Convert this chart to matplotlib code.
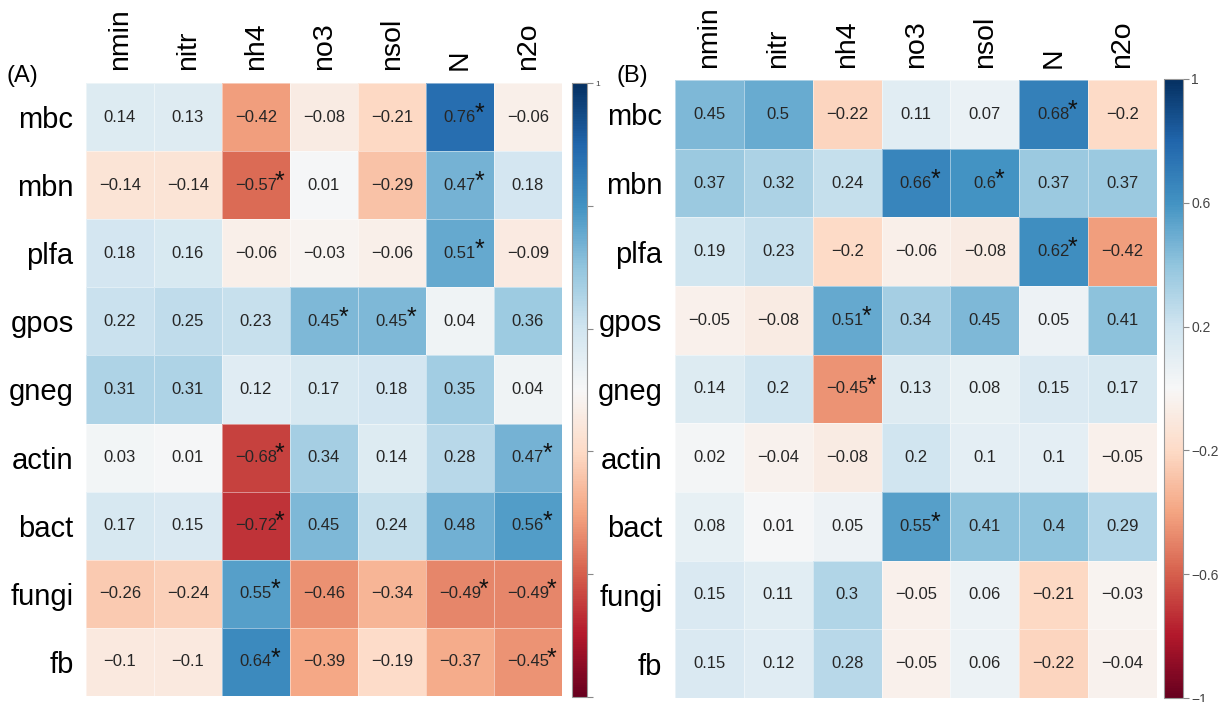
import numpy as np
import matplotlib
matplotlib.use("Agg")
import matplotlib.pyplot as plt

plt.rcParams['font.family'] = ['Liberation Sans', 'DejaVu Sans']

rows = ["mbc", "mbn", "plfa", "gpos", "gneg", "actin", "bact", "fungi", "fb"]
cols = ["nmin", "nitr", "nh4", "no3", "nsol", "N", "n2o"]

vals_A = [
    [0.14, 0.13, -0.42, -0.08, -0.21, 0.76, -0.06],
    [-0.14, -0.14, -0.57, 0.01, -0.29, 0.47, 0.18],
    [0.18, 0.16, -0.06, -0.03, -0.06, 0.51, -0.09],
    [0.22, 0.25, 0.23, 0.45, 0.45, 0.04, 0.36],
    [0.31, 0.31, 0.12, 0.17, 0.18, 0.35, 0.04],
    [0.03, 0.01, -0.68, 0.34, 0.14, 0.28, 0.47],
    [0.17, 0.15, -0.72, 0.45, 0.24, 0.48, 0.56],
    [-0.26, -0.24, 0.55, -0.46, -0.34, -0.49, -0.49],
    [-0.1, -0.1, 0.64, -0.39, -0.19, -0.37, -0.45],
]
sig_A = [
    [0, 0, 0, 0, 0, 1, 0],
    [0, 0, 1, 0, 0, 1, 0],
    [0, 0, 0, 0, 0, 1, 0],
    [0, 0, 0, 1, 1, 0, 0],
    [0, 0, 0, 0, 0, 0, 0],
    [0, 0, 1, 0, 0, 0, 1],
    [0, 0, 1, 0, 0, 0, 1],
    [0, 0, 1, 0, 0, 1, 1],
    [0, 0, 1, 0, 0, 0, 1],
]

vals_B = [
    [0.45, 0.5, -0.22, 0.11, 0.07, 0.68, -0.2],
    [0.37, 0.32, 0.24, 0.66, 0.6, 0.37, 0.37],
    [0.19, 0.23, -0.2, -0.06, -0.08, 0.62, -0.42],
    [-0.05, -0.08, 0.51, 0.34, 0.45, 0.05, 0.41],
    [0.14, 0.2, -0.45, 0.13, 0.08, 0.15, 0.17],
    [0.02, -0.04, -0.08, 0.2, 0.1, 0.1, -0.05],
    [0.08, 0.01, 0.05, 0.55, 0.41, 0.4, 0.29],
    [0.15, 0.11, 0.3, -0.05, 0.06, -0.21, -0.03],
    [0.15, 0.12, 0.28, -0.05, 0.06, -0.22, -0.04],
]
sig_B = [
    [0, 0, 0, 0, 0, 1, 0],
    [0, 0, 0, 1, 1, 0, 0],
    [0, 0, 0, 0, 0, 1, 0],
    [0, 0, 1, 0, 0, 0, 0],
    [0, 0, 1, 0, 0, 0, 0],
    [0, 0, 0, 0, 0, 0, 0],
    [0, 0, 0, 1, 0, 0, 0],
    [0, 0, 0, 0, 0, 0, 0],
    [0, 0, 0, 0, 0, 0, 0],
]

cbar_ticks = [-1, -0.6, -0.2, 0.2, 0.6, 1]
cbar_labels_B = ["\u22121", "\u22120.6", "\u22120.2", "0.2", "0.6", "1"]
cbar_labels_A = ["", "", "", "", "", "1"]

W, H = 1231, 702
fig = plt.figure(figsize=(W / 100, H / 100), dpi=100)


def box(x0, y0, x1, y1):
    return [x0 / W, 1 - y1 / H, (x1 - x0) / W, (y1 - y0) / H]


def fmt(v):
    return f"{v:g}".replace("-", "\u2212")


def heat(ax, cax, vals, sig, letter, lx, ly, cb_labels, cb_fs):
    data = np.array(vals, dtype=float)
    m = ax.pcolormesh(data, cmap="RdBu", vmin=-1, vmax=1,
                      edgecolors=(1, 1, 1, 0.45), linewidth=0.6)
    ax.set_xlim(0, data.shape[1])
    ax.set_ylim(data.shape[0], 0)
    ax.xaxis.tick_top()
    ax.set_xticks(np.arange(data.shape[1]) + 0.5)
    ax.set_xticklabels(cols, rotation=90, fontsize=20.5)
    ax.set_yticks(np.arange(data.shape[0]) + 0.5)
    ax.set_yticklabels(rows, fontsize=21)
    ax.tick_params(length=0, pad=9)
    for s in ax.spines.values():
        s.set_visible(False)
    texts = []
    for i in range(data.shape[0]):
        for j in range(data.shape[1]):
            t = ax.text(j + 0.5, i + 0.5, fmt(data[i, j]), ha="center",
                        va="center", fontsize=12, color="#262626")
            if sig[i][j]:
                texts.append(t)
    cb = fig.colorbar(m, cax=cax)
    cb.set_ticks(cbar_ticks)
    cb.set_ticklabels(cb_labels)
    cb.ax.tick_params(labelsize=cb_fs, length=4, width=0.8, color="#888888",
                      labelcolor="#444444", pad=2)
    cb.outline.set_edgecolor("#999999")
    cb.outline.set_linewidth(0.8)
    fig.text(lx / W, 1 - ly / H, letter, fontsize=17, ha="left", va="center")
    return texts


axA = fig.add_axes(box(86, 83, 562, 696))
caxA = fig.add_axes(box(572, 83, 587, 697))
axB = fig.add_axes(box(675, 80, 1157, 698))
caxB = fig.add_axes(box(1164, 79, 1183, 698))

sA = heat(axA, caxA, vals_A, sig_A, "(A)", 6, 76, cbar_labels_A, 6)
sB = heat(axB, caxB, vals_B, sig_B, "(B)", 616, 76, cbar_labels_B, 10)

fig.canvas.draw()
r = fig.canvas.get_renderer()
for t in sA + sB:
    bb = t.get_window_extent(r)
    fig.text((bb.x1 - 2) / W, (bb.y1 + 8) / H, "*",
             fontsize=18, ha="left", va="top", color="#111111")

fig.savefig("out.png", dpi=100)
